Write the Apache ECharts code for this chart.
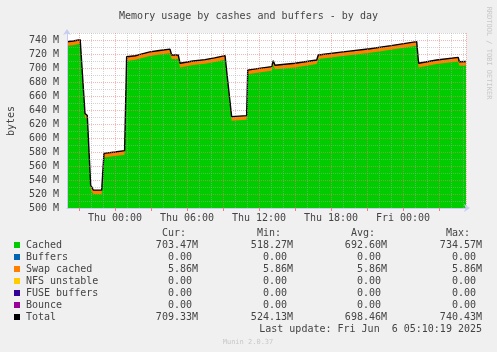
<!DOCTYPE html>
<html>
<head>
<meta charset="utf-8">
<script src="https://cdn.jsdelivr.net/npm/echarts@6/dist/echarts.min.js"></script>
<style>
  html, body { margin: 0; padding: 0; background: #F0F0F0; }
  #main { width: 497px; height: 352px; }
</style>
</head>
<body>
<div id="main"></div>
<script>
// hours relative to Thu 00:00
var timeHours = [-4.0, -3.5, -2.9, -2.78, -2.5, -2.38, -2.31, -2.03, -1.81, -1.73, -1.11, -0.92,
  0.0, 0.8, 0.97, 1.7, 2.1, 2.9, 3.7, 4.58, 4.72, 5.27, 5.42, 6.5, 7.5, 8.3, 9.17, 9.31, 9.44,
  9.72, 10.97, 11.06, 12.0, 13.06, 13.19, 13.33, 15.0, 16.81, 16.94, 19.0, 21.25, 23.0, 25.14,
  25.3, 26.8, 28.6, 28.7, 29.25];
var cachedValues = [731.64, 732.64, 734.54, 734.54, 629.14, 627.64, 626.14, 527.14, 519.84, 518.24, 519.64, 572.14,
  574.14, 576.14, 710.14, 711.64, 713.64, 717.14, 719.14, 721.14, 712.74, 712.74, 700.84, 704.14, 706.14, 708.64, 711.74, 689.14, 689.14,
  624.64, 626.14, 691.14, 693.64, 696.14, 704.64, 698.14, 700.84, 705.54, 712.74, 717.14, 721.64, 726.14, 731.74,
  700.84, 705.54, 709.34, 703.14, 703.47];
var swapCachedValues = [5.86, 5.86, 5.86, 5.86, 5.86, 5.86, 5.86, 5.86, 5.86, 5.86, 5.86, 5.86,
  5.86, 5.86, 5.86, 5.86, 5.86, 5.86, 5.86, 5.86, 5.86, 5.86, 5.86, 5.86, 5.86, 5.86, 5.86, 5.86, 5.86,
  5.86, 5.86, 5.86, 5.86, 5.86, 5.86, 5.86, 5.86, 5.86, 5.86, 5.86, 5.86, 5.86, 5.86,
  5.86, 5.86, 5.86, 5.86, 5.86];

var xLabelHours = [0, 6, 12, 18, 24];
var xLabelTexts = ['Thu 00:00', 'Thu 06:00', 'Thu 12:00', 'Thu 18:00', 'Fri 00:00'];
var xMajorHours = [-3, 0, 3, 6, 9, 12, 15, 18, 21, 24, 27];

var legendNames = ['Cached', 'Buffers', 'Swap cached', 'NFS unstable', 'FUSE buffers', 'Bounce', 'Total'];
var legendColors = ['#00CC00', '#0066B3', '#FF8000', '#FFCC00', '#330099', '#990099', '#000000'];
var curText = ['703.47M', '0.00 ', '5.86M', '0.00 ', '0.00 ', '0.00 ', '709.33M'];
var minText = ['518.27M', '0.00 ', '5.86M', '0.00 ', '0.00 ', '0.00 ', '524.13M'];
var avgText = ['692.60M', '0.00 ', '5.86M', '0.00 ', '0.00 ', '0.00 ', '698.46M'];
var maxText = ['734.57M', '0.00 ', '5.86M', '0.00 ', '0.00 ', '0.00 ', '740.43M'];

var FONT = 'DejaVu Sans Mono';
var TXT = '#444';
var MAJOR = 'rgba(240,120,120,0.55)';
var MINOR = 'rgba(170,170,170,0.5)';

var chart = echarts.init(document.getElementById('main'));

// stacked by hand: swap cached band sits on top of cached
var cachedData = timeHours.map(function (h, i) { return [h, cachedValues[i]]; });
var totalData = timeHours.map(function (h, i) { return [h, cachedValues[i] + swapCachedValues[i]]; });

// legend table
var graphics = [];
var headers = ['Cur:', 'Min:', 'Avg:', 'Max:'];
var headerX = [186, 281, 375, 470];
var colX = [198, 293, 387, 482];
headers.forEach(function (t, i) {
  graphics.push({ type: 'text', x: headerX[i], y: 233,
    style: { text: t, font: '10px ' + FONT, fill: TXT, align: 'right', verticalAlign: 'middle' } });
});
legendNames.forEach(function (name, i) {
  var y = 245 + 12 * i;
  graphics.push({ type: 'rect', shape: { x: 14, y: y - 3, width: 6, height: 6 }, style: { fill: legendColors[i] } });
  graphics.push({ type: 'text', x: 26, y: y,
    style: { text: name, font: '10px ' + FONT, fill: TXT, verticalAlign: 'middle' } });
  [curText, minText, avgText, maxText].forEach(function (arr, j) {
    graphics.push({ type: 'text', x: colX[j], y: y,
      style: { text: arr[i], font: '10px ' + FONT, fill: TXT, align: 'right', verticalAlign: 'middle' } });
  });
});
graphics.push({ type: 'text', x: 482, y: 329,
  style: { text: 'Last update: Fri Jun  6 05:10:19 2025', font: '10px ' + FONT, fill: TXT, align: 'right', verticalAlign: 'middle' } });
graphics.push({ type: 'text', x: 248, y: 342,
  style: { text: 'Munin 2.0.37', font: '7px ' + FONT, fill: '#c8c8c8', align: 'center', verticalAlign: 'middle' } });
graphics.push({ type: 'text', x: 11, y: 121, rotation: Math.PI / 2,
  style: { text: 'bytes', font: '10px ' + FONT, fill: TXT, align: 'center', verticalAlign: 'middle' } });
graphics.push({ type: 'text', x: 489, y: 53, rotation: -Math.PI / 2,
  style: { text: 'RRDTOOL / TOBI OETIKER', font: '7px ' + FONT, fill: '#c8c8c8', align: 'center', verticalAlign: 'middle' } });

var option = {
  backgroundColor: '#F0F0F0',
  animation: false,
  title: {
    text: 'Memory usage by cashes and buffers - by day',
    left: 'center', top: 6,
    textStyle: { fontFamily: FONT, fontSize: 10, fontWeight: 'normal', color: TXT }
  },
  grid: { left: 67, right: 31, top: 33, bottom: 144, show: true, backgroundColor: '#FFFFFF', borderWidth: 0 },
  xAxis: [{
    type: 'value', min: -4, max: 29.25, interval: 1, z: 5,
    axisLine: { show: true, onZero: false, lineStyle: { color: '#c8ccf0' }, symbol: ['none', 'arrow'], symbolSize: [6, 6], symbolOffset: [0, 4] },
    axisTick: { show: false },
    axisLabel: {
      margin: 5, fontFamily: FONT, fontSize: 10, color: TXT,
      formatter: function (v) {
        var k = xLabelHours.indexOf(Math.round(v * 100) / 100);
        return k >= 0 ? xLabelTexts[k] : '';
      }
    },
    splitLine: { show: true, lineStyle: { color: [MINOR, MAJOR, MINOR], type: 'dotted' } }
  }, {
    type: 'value', min: -4, max: 29.25, position: 'bottom', z: 5,
    axisLine: { show: false, onZero: false },
    axisTick: { show: true, length: 3, customValues: xMajorHours, lineStyle: { color: '#f08080' } },
    axisLabel: { show: false },
    splitLine: { show: false }
  }],
  yAxis: {
    type: 'value', min: 500, max: 750, interval: 10, z: 5,
    axisLine: { show: true, onZero: false, lineStyle: { color: '#c8ccf0' }, symbol: ['none', 'arrow'], symbolSize: [6, 6], symbolOffset: [0, 4] },
    axisTick: { show: false },
    axisLabel: {
      margin: 8, fontFamily: FONT, fontSize: 10, color: TXT,
      formatter: function (v) { return v % 20 === 0 ? v + ' M' : ''; }
    },
    splitLine: { show: true, lineStyle: { color: [MAJOR, MINOR], type: 'dotted' } }
  },
  graphic: graphics,
  series: [{
    name: 'Swap cached', type: 'line', data: totalData, showSymbol: false,
    lineStyle: { width: 0 }, areaStyle: { color: '#FF8000', opacity: 1, origin: 'start' }, z: 1
  }, {
    name: 'Cached', type: 'line', data: cachedData, showSymbol: false,
    lineStyle: { width: 0 }, areaStyle: { color: '#00CC00', opacity: 1, origin: 'start' }, z: 2
  }, {
    name: 'Total', type: 'line', data: totalData, showSymbol: false,
    lineStyle: { width: 1.4, color: '#000000' }, z: 3
  }]
};
chart.setOption(option);
</script>
</body>
</html>
